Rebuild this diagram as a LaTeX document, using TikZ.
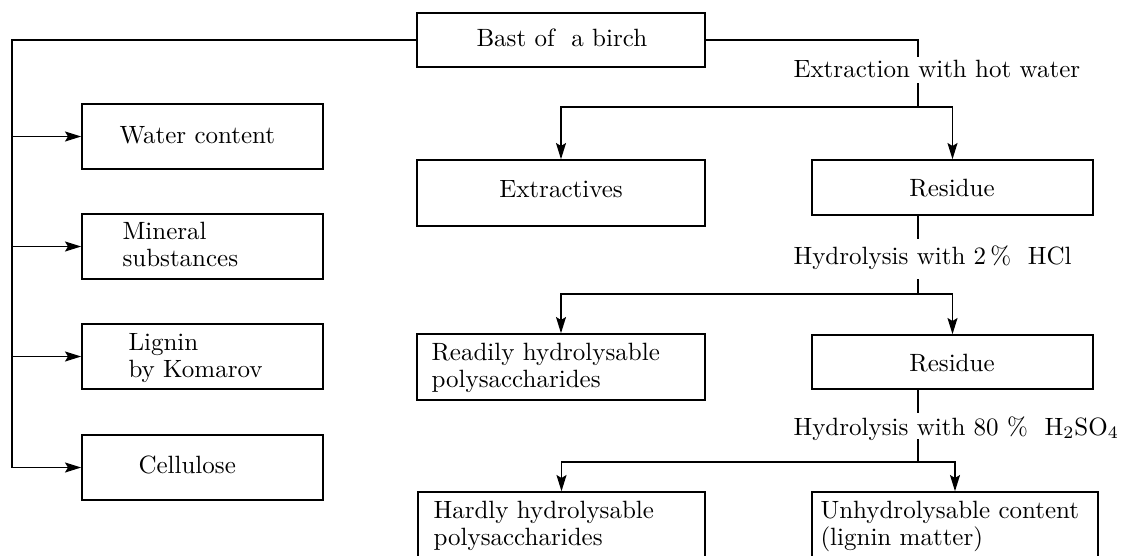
\documentclass[tikz,border=0pt]{standalone}
\usetikzlibrary{arrows.meta,fit}
\begin{document}
\begin{tikzpicture}[x=0.4pt,y=-0.4pt,
  box/.style={draw, line width=0.6pt, inner sep=0pt},
  txt/.style={inner sep=0pt, font=\fontsize{10}{11}\selectfont},
  ml/.style={txt, align=left, anchor=north west},
  conn/.style={line width=0.6pt},
  arr/.style={conn, -{Stealth[length=6.5pt,width=4pt,inset=1.2pt]}}]
\useasboundingbox (0,0) rectangle (1121,555);
\clip (0,0) rectangle (1121,555);

% boxes
\node[box, fit={(417,13) (705,67)}] (bast) {};
\node[box, fit={(82,104) (323,169)}] (water) {};
\node[box, fit={(82,214) (323,279)}] (miner) {};
\node[box, fit={(82,324) (323,389)}] (lign) {};
\node[box, fit={(82,435) (323,500)}] (cell) {};
\node[box, fit={(417,160) (705,226)}] (extr) {};
\node[box, fit={(812,160) (1093,215)}] (res1) {};
\node[box, fit={(417,334) (705,400)}] (read) {};
\node[box, fit={(812,335) (1093,389)}] (res2) {};
\node[box, fit={(418,492) (705,600)}] (hard) {};
\node[box, fit={(812,492) (1098,600)}] (unhy) {};

% texts
\node[txt, anchor=base west] (tbast) at (476,46) {Bast of\ \ a birch};
\node[txt, anchor=base west] (twater) at (119,143) {Water content};
\node[ml] (tminer) at (122,221.6) {Mineral\\substances};
\node[ml] (tlign) at (128,332.6) {Lignin\\by Komarov};
\node[txt, anchor=base west] (tcell) at (138,473) {Cellulose};
\node[txt, anchor=base] (textr) at (561,197) {Extractives};
\node[txt, anchor=base] (tres1) at (952,196) {Residue};
\node[ml] (tread) at (431,342.6) {Readily hydrolysable\\polysaccharides};
\node[txt, anchor=base] (tres2) at (952,371) {Residue};
\node[ml] (thard) at (433,500.6) {Hardly hydrolysable\\polysaccharides};
\node[ml] (tunhy) at (820,500.6) {Unhydrolysable content\\(lignin matter)};

% process labels
\node[txt, anchor=base west] (t1) at (793,77) {Extraction with hot water};
\node[txt, anchor=base west] (t2) at (793,264) {Hydrolysis with 2\,\%\ \ HCl};
\node[txt, anchor=base west] (t3) at (793,435) {Hydrolysis with 80 \%\ \ H$_2$SO$_4$};

% coordinates
\coordinate (L) at (12,0);
\coordinate (c1a) at (918,57);  \coordinate (c1b) at (918,83);  \coordinate (j1) at (918,107);
\coordinate (c2a) at (918,239); \coordinate (c2b) at (918,279); \coordinate (j2) at (918,294);
\coordinate (c3a) at (918,413); \coordinate (c3b) at (918,439); \coordinate (j3) at (918,462);

% left branch
\draw[arr] (bast.west) -| (cell.west -| L) -- (cell.west);
\draw[arr] (water.west -| L) -- (water.west);
\draw[arr] (miner.west -| L) -- (miner.west);
\draw[arr] (lign.west -| L) -- (lign.west);

% right branch
\draw[conn] (bast.east) -| (c1a);
\draw[conn] (c1b) -- (j1);
\draw[arr] (j1) -| (extr.north);
\draw[arr] (j1) -| (res1.north);
\draw[conn] (res1.south -| j2) -- (c2a);
\draw[conn] (c2b) -- (j2);
\draw[arr] (j2) -| (read.north);
\draw[arr] (j2) -| (res2.north);
\draw[conn] (res2.south -| j3) -- (c3a);
\draw[conn] (c3b) -- (j3);
\draw[arr] (j3) -| (hard.north);
\draw[arr] (j3) -| (unhy.north);
\end{tikzpicture}
\end{document}
